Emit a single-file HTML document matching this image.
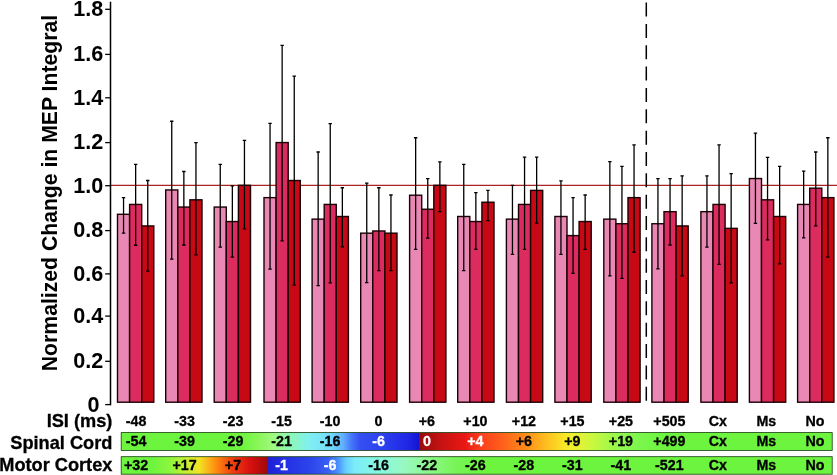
<!DOCTYPE html>
<html><head><meta charset="utf-8"><title>Figure</title>
<style>
html,body{margin:0;padding:0;background:#fff;}
body{width:837px;height:475px;overflow:hidden;}
svg{display:block;will-change:transform;}
text{font-family:"Liberation Sans",sans-serif;font-weight:bold;fill:#000;}
.yt{font-size:21.6px;text-anchor:end;}
.rl{font-size:18.2px;text-anchor:end;stroke:#000;stroke-width:0.3px;}
.cl{font-size:14.8px;text-anchor:middle;stroke:#000;stroke-width:0.3px;}
.w{fill:#fff;stroke:#fff;}
</style></head><body>
<svg width="837" height="475" viewBox="0 0 837 475">
<defs>
<linearGradient id="g1" gradientUnits="userSpaceOnUse" x1="0" y1="0" x2="837" y2="0">
<stop offset="0.1446" stop-color="#6DF43E"/>
<stop offset="0.2891" stop-color="#6DF43E"/>
<stop offset="0.3106" stop-color="#8CF65C"/>
<stop offset="0.3262" stop-color="#A0F880"/>
<stop offset="0.3429" stop-color="#90F8AC"/>
<stop offset="0.3692" stop-color="#80F0F0"/>
<stop offset="0.3943" stop-color="#74DCFF"/>
<stop offset="0.4098" stop-color="#60B0FF"/>
<stop offset="0.4205" stop-color="#4474F8"/>
<stop offset="0.4301" stop-color="#3450F2"/>
<stop offset="0.4576" stop-color="#2C40EE"/>
<stop offset="0.4875" stop-color="#2026E6"/>
<stop offset="0.5010" stop-color="#1414D0"/>
<stop offset="0.5010" stop-color="#980C0C"/>
<stop offset="0.5257" stop-color="#C41212"/>
<stop offset="0.5556" stop-color="#EA1814"/>
<stop offset="0.5735" stop-color="#FA3C1C"/>
<stop offset="0.5974" stop-color="#FF5C1C"/>
<stop offset="0.6260" stop-color="#FF8818"/>
<stop offset="0.6535" stop-color="#FFC020"/>
<stop offset="0.6750" stop-color="#F8E828"/>
<stop offset="0.6846" stop-color="#F0F030"/>
<stop offset="0.7109" stop-color="#C4F840"/>
<stop offset="0.7288" stop-color="#A4F848"/>
<stop offset="0.7419" stop-color="#90F850"/>
<stop offset="0.7670" stop-color="#7AF64C"/>
<stop offset="0.7945" stop-color="#6DF43E"/>
<stop offset="0.9952" stop-color="#6DF43E"/>
</linearGradient>
<linearGradient id="g2" gradientUnits="userSpaceOnUse" x1="0" y1="0" x2="837" y2="0">
<stop offset="0.1446" stop-color="#6DF43E"/>
<stop offset="0.1816" stop-color="#6DF43E"/>
<stop offset="0.2031" stop-color="#8CF63C"/>
<stop offset="0.2198" stop-color="#C0F034"/>
<stop offset="0.2378" stop-color="#F0E424"/>
<stop offset="0.2569" stop-color="#FF9010"/>
<stop offset="0.2772" stop-color="#F04010"/>
<stop offset="0.2987" stop-color="#D81010"/>
<stop offset="0.3203" stop-color="#A00808"/>
<stop offset="0.3203" stop-color="#2020D4"/>
<stop offset="0.3405" stop-color="#2430E4"/>
<stop offset="0.3704" stop-color="#2C44EC"/>
<stop offset="0.3919" stop-color="#3A60F4"/>
<stop offset="0.4038" stop-color="#4890FF"/>
<stop offset="0.4134" stop-color="#68D0FF"/>
<stop offset="0.4241" stop-color="#7CECF8"/>
<stop offset="0.4540" stop-color="#88F8E0"/>
<stop offset="0.4839" stop-color="#98F8C0"/>
<stop offset="0.5137" stop-color="#8CF888"/>
<stop offset="0.5436" stop-color="#78F458"/>
<stop offset="0.5735" stop-color="#6DF43E"/>
<stop offset="0.9952" stop-color="#6DF43E"/>
</linearGradient>
</defs>
<rect x="0" y="0" width="837" height="475" fill="#fff"/>
<text transform="translate(56.6,371.2) rotate(-90)" font-size="21.2" text-anchor="start">Normalized Change in MEP Integral</text>
<line x1="111" y1="185.4" x2="837" y2="185.4" stroke="#AA2222" stroke-width="1.15"/>
<rect x="117.50" y="214.30" width="12.10" height="187.90" fill="#EA88B5" stroke="#1a0004" stroke-width="1.4"/>
<rect x="129.60" y="204.43" width="12.10" height="197.77" fill="#DB2B5F" stroke="#1a0004" stroke-width="1.4"/>
<rect x="141.70" y="225.93" width="12.10" height="176.27" fill="#C70915" stroke="#1a0004" stroke-width="1.4"/>
<rect x="165.70" y="189.95" width="12.10" height="212.25" fill="#EA88B5" stroke="#1a0004" stroke-width="1.4"/>
<rect x="177.80" y="207.06" width="12.10" height="195.14" fill="#DB2B5F" stroke="#1a0004" stroke-width="1.4"/>
<rect x="189.90" y="199.82" width="12.10" height="202.38" fill="#C70915" stroke="#1a0004" stroke-width="1.4"/>
<rect x="214.20" y="207.06" width="12.10" height="195.14" fill="#EA88B5" stroke="#1a0004" stroke-width="1.4"/>
<rect x="226.30" y="221.54" width="12.10" height="180.66" fill="#DB2B5F" stroke="#1a0004" stroke-width="1.4"/>
<rect x="238.40" y="185.34" width="12.10" height="216.86" fill="#C70915" stroke="#1a0004" stroke-width="1.4"/>
<rect x="264.00" y="197.63" width="12.10" height="204.57" fill="#EA88B5" stroke="#1a0004" stroke-width="1.4"/>
<rect x="276.10" y="142.56" width="12.10" height="259.64" fill="#DB2B5F" stroke="#1a0004" stroke-width="1.4"/>
<rect x="288.20" y="180.51" width="12.10" height="221.69" fill="#C70915" stroke="#1a0004" stroke-width="1.4"/>
<rect x="312.10" y="219.13" width="12.10" height="183.07" fill="#EA88B5" stroke="#1a0004" stroke-width="1.4"/>
<rect x="324.20" y="204.43" width="12.10" height="197.77" fill="#DB2B5F" stroke="#1a0004" stroke-width="1.4"/>
<rect x="336.30" y="216.49" width="12.10" height="185.71" fill="#C70915" stroke="#1a0004" stroke-width="1.4"/>
<rect x="360.70" y="233.17" width="12.10" height="169.03" fill="#EA88B5" stroke="#1a0004" stroke-width="1.4"/>
<rect x="372.80" y="230.97" width="12.10" height="171.23" fill="#DB2B5F" stroke="#1a0004" stroke-width="1.4"/>
<rect x="384.90" y="233.17" width="12.10" height="169.03" fill="#C70915" stroke="#1a0004" stroke-width="1.4"/>
<rect x="409.60" y="195.21" width="12.10" height="206.99" fill="#EA88B5" stroke="#1a0004" stroke-width="1.4"/>
<rect x="421.70" y="209.25" width="12.10" height="192.95" fill="#DB2B5F" stroke="#1a0004" stroke-width="1.4"/>
<rect x="433.80" y="185.34" width="12.10" height="216.86" fill="#C70915" stroke="#1a0004" stroke-width="1.4"/>
<rect x="457.70" y="216.49" width="12.10" height="185.71" fill="#EA88B5" stroke="#1a0004" stroke-width="1.4"/>
<rect x="469.80" y="221.54" width="12.10" height="180.66" fill="#DB2B5F" stroke="#1a0004" stroke-width="1.4"/>
<rect x="481.90" y="202.23" width="12.10" height="199.97" fill="#C70915" stroke="#1a0004" stroke-width="1.4"/>
<rect x="506.40" y="219.13" width="12.10" height="183.07" fill="#EA88B5" stroke="#1a0004" stroke-width="1.4"/>
<rect x="518.50" y="204.43" width="12.10" height="197.77" fill="#DB2B5F" stroke="#1a0004" stroke-width="1.4"/>
<rect x="530.60" y="190.39" width="12.10" height="211.81" fill="#C70915" stroke="#1a0004" stroke-width="1.4"/>
<rect x="554.90" y="216.49" width="12.10" height="185.71" fill="#EA88B5" stroke="#1a0004" stroke-width="1.4"/>
<rect x="567.00" y="235.58" width="12.10" height="166.62" fill="#DB2B5F" stroke="#1a0004" stroke-width="1.4"/>
<rect x="579.10" y="221.54" width="12.10" height="180.66" fill="#C70915" stroke="#1a0004" stroke-width="1.4"/>
<rect x="603.80" y="219.13" width="12.10" height="183.07" fill="#EA88B5" stroke="#1a0004" stroke-width="1.4"/>
<rect x="615.90" y="223.73" width="12.10" height="178.47" fill="#DB2B5F" stroke="#1a0004" stroke-width="1.4"/>
<rect x="628.00" y="197.63" width="12.10" height="204.57" fill="#C70915" stroke="#1a0004" stroke-width="1.4"/>
<rect x="651.90" y="223.73" width="12.10" height="178.47" fill="#EA88B5" stroke="#1a0004" stroke-width="1.4"/>
<rect x="664.00" y="211.67" width="12.10" height="190.53" fill="#DB2B5F" stroke="#1a0004" stroke-width="1.4"/>
<rect x="676.10" y="225.93" width="12.10" height="176.27" fill="#C70915" stroke="#1a0004" stroke-width="1.4"/>
<rect x="700.90" y="211.67" width="12.10" height="190.53" fill="#EA88B5" stroke="#1a0004" stroke-width="1.4"/>
<rect x="713.00" y="204.43" width="12.10" height="197.77" fill="#DB2B5F" stroke="#1a0004" stroke-width="1.4"/>
<rect x="725.10" y="228.34" width="12.10" height="173.86" fill="#C70915" stroke="#1a0004" stroke-width="1.4"/>
<rect x="749.40" y="178.54" width="12.10" height="223.66" fill="#EA88B5" stroke="#1a0004" stroke-width="1.4"/>
<rect x="761.50" y="199.82" width="12.10" height="202.38" fill="#DB2B5F" stroke="#1a0004" stroke-width="1.4"/>
<rect x="773.60" y="216.49" width="12.10" height="185.71" fill="#C70915" stroke="#1a0004" stroke-width="1.4"/>
<rect x="797.60" y="204.43" width="12.10" height="197.77" fill="#EA88B5" stroke="#1a0004" stroke-width="1.4"/>
<rect x="809.70" y="188.19" width="12.10" height="214.01" fill="#DB2B5F" stroke="#1a0004" stroke-width="1.4"/>
<rect x="821.80" y="197.63" width="12.10" height="204.57" fill="#C70915" stroke="#1a0004" stroke-width="1.4"/>
<path d="M123.55 197.63V233.17M121.85 197.63h3.4M121.85 233.17h3.4" stroke="#000" stroke-width="1.3" fill="none"/>
<path d="M135.65 164.28V245.24M133.95 164.28h3.4M133.95 245.24h3.4" stroke="#000" stroke-width="1.3" fill="none"/>
<path d="M147.75 180.51V271.12M146.05 180.51h3.4M146.05 271.12h3.4" stroke="#000" stroke-width="1.3" fill="none"/>
<path d="M171.75 121.27V259.06M170.05 121.27h3.4M170.05 259.06h3.4" stroke="#000" stroke-width="1.3" fill="none"/>
<path d="M183.85 171.52V245.02M182.15 171.52h3.4M182.15 245.02h3.4" stroke="#000" stroke-width="1.3" fill="none"/>
<path d="M195.95 142.56V254.89M194.25 142.56h3.4M194.25 254.89h3.4" stroke="#000" stroke-width="1.3" fill="none"/>
<path d="M220.25 164.28V247.21M218.55 164.28h3.4M218.55 247.21h3.4" stroke="#000" stroke-width="1.3" fill="none"/>
<path d="M232.35 185.78V257.08M230.65 185.78h3.4M230.65 257.08h3.4" stroke="#000" stroke-width="1.3" fill="none"/>
<path d="M244.45 140.36V228.78M242.75 140.36h3.4M242.75 228.78h3.4" stroke="#000" stroke-width="1.3" fill="none"/>
<path d="M270.05 123.47V269.15M268.35 123.47h3.4M268.35 269.15h3.4" stroke="#000" stroke-width="1.3" fill="none"/>
<path d="M282.15 45.36V240.85M280.45 45.36h3.4M280.45 240.85h3.4" stroke="#000" stroke-width="1.3" fill="none"/>
<path d="M294.25 76.08V285.17M292.55 76.08h3.4M292.55 285.17h3.4" stroke="#000" stroke-width="1.3" fill="none"/>
<path d="M318.15 151.99V285.60M316.45 151.99h3.4M316.45 285.60h3.4" stroke="#000" stroke-width="1.3" fill="none"/>
<path d="M330.25 123.69V282.97M328.55 123.69h3.4M328.55 282.97h3.4" stroke="#000" stroke-width="1.3" fill="none"/>
<path d="M342.35 187.75V246.77M340.65 187.75h3.4M340.65 246.77h3.4" stroke="#000" stroke-width="1.3" fill="none"/>
<path d="M366.75 183.14V282.53M365.05 183.14h3.4M365.05 282.53h3.4" stroke="#000" stroke-width="1.3" fill="none"/>
<path d="M378.85 187.75V270.69M377.15 187.75h3.4M377.15 270.69h3.4" stroke="#000" stroke-width="1.3" fill="none"/>
<path d="M390.95 194.99V270.69M389.25 194.99h3.4M389.25 270.69h3.4" stroke="#000" stroke-width="1.3" fill="none"/>
<path d="M415.65 137.73V249.40M413.95 137.73h3.4M413.95 249.40h3.4" stroke="#000" stroke-width="1.3" fill="none"/>
<path d="M427.75 178.54V238.21M426.05 178.54h3.4M426.05 238.21h3.4" stroke="#000" stroke-width="1.3" fill="none"/>
<path d="M439.85 161.86V211.67M438.15 161.86h3.4M438.15 211.67h3.4" stroke="#000" stroke-width="1.3" fill="none"/>
<path d="M463.75 164.28V270.69M462.05 164.28h3.4M462.05 270.69h3.4" stroke="#000" stroke-width="1.3" fill="none"/>
<path d="M475.85 192.58V249.40M474.15 192.58h3.4M474.15 249.40h3.4" stroke="#000" stroke-width="1.3" fill="none"/>
<path d="M487.95 190.39V220.66M486.25 190.39h3.4M486.25 220.66h3.4" stroke="#000" stroke-width="1.3" fill="none"/>
<path d="M512.45 185.34V254.45M510.75 185.34h3.4M510.75 254.45h3.4" stroke="#000" stroke-width="1.3" fill="none"/>
<path d="M524.55 157.04V249.40M522.85 157.04h3.4M522.85 249.40h3.4" stroke="#000" stroke-width="1.3" fill="none"/>
<path d="M536.65 157.04V223.08M534.95 157.04h3.4M534.95 223.08h3.4" stroke="#000" stroke-width="1.3" fill="none"/>
<path d="M560.95 180.95V254.45M559.25 180.95h3.4M559.25 254.45h3.4" stroke="#000" stroke-width="1.3" fill="none"/>
<path d="M573.05 197.63V273.32M571.35 197.63h3.4M571.35 273.32h3.4" stroke="#000" stroke-width="1.3" fill="none"/>
<path d="M585.15 194.99V249.40M583.45 194.99h3.4M583.45 249.40h3.4" stroke="#000" stroke-width="1.3" fill="none"/>
<path d="M609.85 161.64V275.95M608.15 161.64h3.4M608.15 275.95h3.4" stroke="#000" stroke-width="1.3" fill="none"/>
<path d="M621.95 166.47V278.36M620.25 166.47h3.4M620.25 278.36h3.4" stroke="#000" stroke-width="1.3" fill="none"/>
<path d="M634.05 144.97V252.26M632.35 144.97h3.4M632.35 252.26h3.4" stroke="#000" stroke-width="1.3" fill="none"/>
<path d="M657.95 178.54V268.93M656.25 178.54h3.4M656.25 268.93h3.4" stroke="#000" stroke-width="1.3" fill="none"/>
<path d="M670.05 178.54V245.02M668.35 178.54h3.4M668.35 245.02h3.4" stroke="#000" stroke-width="1.3" fill="none"/>
<path d="M682.15 175.90V275.95M680.45 175.90h3.4M680.45 275.95h3.4" stroke="#000" stroke-width="1.3" fill="none"/>
<path d="M706.95 175.90V247.21M705.25 175.90h3.4M705.25 247.21h3.4" stroke="#000" stroke-width="1.3" fill="none"/>
<path d="M719.05 144.97V264.32M717.35 144.97h3.4M717.35 264.32h3.4" stroke="#000" stroke-width="1.3" fill="none"/>
<path d="M731.15 173.71V282.97M729.45 173.71h3.4M729.45 282.97h3.4" stroke="#000" stroke-width="1.3" fill="none"/>
<path d="M755.45 133.12V223.30M753.75 133.12h3.4M753.75 223.30h3.4" stroke="#000" stroke-width="1.3" fill="none"/>
<path d="M767.55 157.47V239.97M765.85 157.47h3.4M765.85 239.97h3.4" stroke="#000" stroke-width="1.3" fill="none"/>
<path d="M779.65 166.47V263.88M777.95 166.47h3.4M777.95 263.88h3.4" stroke="#000" stroke-width="1.3" fill="none"/>
<path d="M803.65 171.08V237.78M801.95 171.08h3.4M801.95 237.78h3.4" stroke="#000" stroke-width="1.3" fill="none"/>
<path d="M815.75 151.99V225.93M814.05 151.99h3.4M814.05 225.93h3.4" stroke="#000" stroke-width="1.3" fill="none"/>
<path d="M827.85 137.73V257.08M826.15 137.73h3.4M826.15 257.08h3.4" stroke="#000" stroke-width="1.3" fill="none"/>
<line x1="646.3" y1="2.6" x2="646.3" y2="401.2" stroke="#000" stroke-width="1.5" stroke-dasharray="14 7.34"/>
<line x1="110.5" y1="1.7" x2="110.5" y2="405.2" stroke="#000" stroke-width="1.5"/>
<line x1="105.2" y1="9.3" x2="110.5" y2="9.3" stroke="#000" stroke-width="1.3"/>
<text class="yt" x="103.2" y="16.1">1.8</text>
<line x1="105.2" y1="54.4" x2="110.5" y2="54.4" stroke="#000" stroke-width="1.3"/>
<text class="yt" x="103.2" y="61.2">1.6</text>
<line x1="105.2" y1="97.8" x2="110.5" y2="97.8" stroke="#000" stroke-width="1.3"/>
<text class="yt" x="103.2" y="104.6">1.4</text>
<line x1="105.2" y1="142.6" x2="110.5" y2="142.6" stroke="#000" stroke-width="1.3"/>
<text class="yt" x="103.2" y="149.4">1.2</text>
<line x1="105.2" y1="185.7" x2="110.5" y2="185.7" stroke="#000" stroke-width="1.3"/>
<text class="yt" x="103.2" y="192.5">1.0</text>
<line x1="105.2" y1="230.6" x2="110.5" y2="230.6" stroke="#000" stroke-width="1.3"/>
<text class="yt" x="103.2" y="237.4">0.8</text>
<line x1="105.2" y1="273.9" x2="110.5" y2="273.9" stroke="#000" stroke-width="1.3"/>
<text class="yt" x="103.2" y="280.7">0.6</text>
<line x1="105.2" y1="316.1" x2="110.5" y2="316.1" stroke="#000" stroke-width="1.3"/>
<text class="yt" x="103.2" y="322.9">0.4</text>
<line x1="105.2" y1="361.3" x2="110.5" y2="361.3" stroke="#000" stroke-width="1.3"/>
<text class="yt" x="103.2" y="368.1">0.2</text>
<line x1="105.2" y1="404.6" x2="110.5" y2="404.6" stroke="#000" stroke-width="1.3"/>
<text class="yt" x="99.6" y="412.4">0</text>
<text class="rl" x="112.4" y="426.8">ISI (ms)</text>
<text class="rl" x="112.4" y="449.0">Spinal Cord</text>
<text class="rl" x="112.4" y="470.6">Motor Cortex</text>
<rect x="121.2" y="432.6" width="711" height="17.8" fill="url(#g1)" stroke="#143c0a" stroke-width="0.8"/>
<rect x="121.2" y="456.7" width="711" height="17.5" fill="url(#g2)" stroke="#143c0a" stroke-width="0.8"/>
<text class="cl" transform="translate(136.0,425.8) scale(0.965,1)">-48</text>
<text class="cl" transform="translate(136.0,445.6) scale(0.965,1)">-54</text>
<text class="cl" transform="translate(136.0,470.0) scale(0.965,1)">+32</text>
<text class="cl" transform="translate(184.5,425.8) scale(0.965,1)">-33</text>
<text class="cl" transform="translate(184.5,445.6) scale(0.965,1)">-39</text>
<text class="cl" transform="translate(184.5,470.0) scale(0.965,1)">+17</text>
<text class="cl" transform="translate(233.0,425.8) scale(0.965,1)">-23</text>
<text class="cl" transform="translate(233.0,445.6) scale(0.965,1)">-29</text>
<text class="cl" transform="translate(233.0,470.0) scale(0.965,1)">+7</text>
<text class="cl" transform="translate(281.5,425.8) scale(0.965,1)">-15</text>
<text class="cl" transform="translate(281.5,445.6) scale(0.965,1)">-21</text>
<text class="cl w" transform="translate(281.5,470.0) scale(0.965,1)">-1</text>
<text class="cl" transform="translate(330.0,425.8) scale(0.965,1)">-10</text>
<text class="cl" transform="translate(330.0,445.6) scale(0.965,1)">-16</text>
<text class="cl w" transform="translate(330.0,470.0) scale(0.965,1)">-6</text>
<text class="cl" transform="translate(378.5,425.8) scale(0.965,1)">0</text>
<text class="cl w" transform="translate(378.5,445.6) scale(0.965,1)">-6</text>
<text class="cl" transform="translate(378.5,470.0) scale(0.965,1)">-16</text>
<text class="cl" transform="translate(426.9,425.8) scale(0.965,1)">+6</text>
<text class="cl w" transform="translate(426.9,445.6) scale(0.965,1)">0</text>
<text class="cl" transform="translate(426.9,470.0) scale(0.965,1)">-22</text>
<text class="cl" transform="translate(475.4,425.8) scale(0.965,1)">+10</text>
<text class="cl w" transform="translate(475.4,445.6) scale(0.965,1)">+4</text>
<text class="cl" transform="translate(475.4,470.0) scale(0.965,1)">-26</text>
<text class="cl" transform="translate(523.9,425.8) scale(0.965,1)">+12</text>
<text class="cl" transform="translate(523.9,445.6) scale(0.965,1)">+6</text>
<text class="cl" transform="translate(523.9,470.0) scale(0.965,1)">-28</text>
<text class="cl" transform="translate(572.4,425.8) scale(0.965,1)">+15</text>
<text class="cl" transform="translate(572.4,445.6) scale(0.965,1)">+9</text>
<text class="cl" transform="translate(572.4,470.0) scale(0.965,1)">-31</text>
<text class="cl" transform="translate(620.9,425.8) scale(0.965,1)">+25</text>
<text class="cl" transform="translate(620.9,445.6) scale(0.965,1)">+19</text>
<text class="cl" transform="translate(620.9,470.0) scale(0.965,1)">-41</text>
<text class="cl" transform="translate(669.4,425.8) scale(0.965,1)">+505</text>
<text class="cl" transform="translate(669.4,445.6) scale(0.965,1)">+499</text>
<text class="cl" transform="translate(669.4,470.0) scale(0.965,1)">-521</text>
<text class="cl" transform="translate(717.9,425.8) scale(0.965,1)">Cx</text>
<text class="cl" transform="translate(717.9,445.6) scale(0.965,1)">Cx</text>
<text class="cl" transform="translate(717.9,470.0) scale(0.965,1)">Cx</text>
<text class="cl" transform="translate(766.4,425.8) scale(0.965,1)">Ms</text>
<text class="cl" transform="translate(766.4,445.6) scale(0.965,1)">Ms</text>
<text class="cl" transform="translate(766.4,470.0) scale(0.965,1)">Ms</text>
<text class="cl" transform="translate(814.9,425.8) scale(0.965,1)">No</text>
<text class="cl" transform="translate(814.9,445.6) scale(0.965,1)">No</text>
<text class="cl" transform="translate(814.9,470.0) scale(0.965,1)">No</text>
</svg>
</body></html>
